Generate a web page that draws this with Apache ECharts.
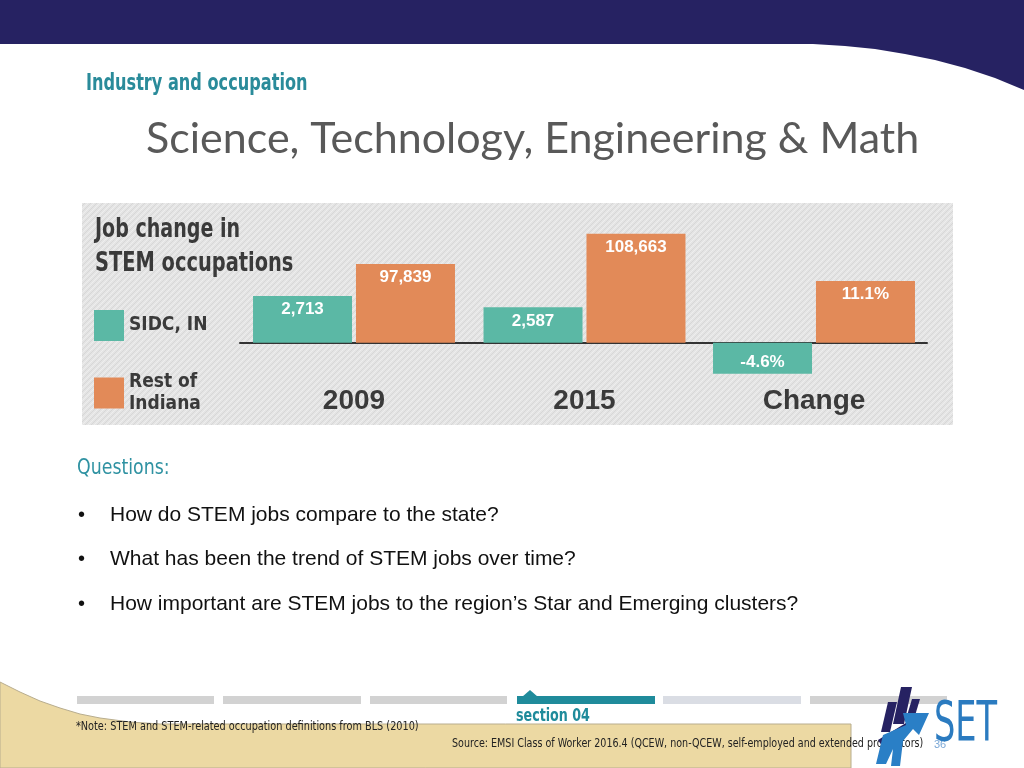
<!DOCTYPE html>
<html><head><meta charset="utf-8">
<script src="https://cdn.jsdelivr.net/npm/echarts@6/dist/echarts.min.js"></script>
<style>html,body{margin:0;padding:0;background:#fff}#c{width:1024px;height:768px}</style>
</head><body><div id="c"></div>
<script>
// ---- data ----
const categories = ['2009', '2015', 'Change'];
const sidcValues = [2713, 2587, -4.6];
const restValues = [97839, 108663, 11.1];
const categoryUnits = ['jobs', 'jobs', 'percent'];
const seriesNames = ['SIDC, IN', 'Rest of\nIndiana'];
const chartTitleLines = ['Job change in', 'STEM occupations'];
const questions = [
  'How do STEM jobs compare to the state?',
  'What has been the trend of STEM jobs over time?',
  'How important are STEM jobs to the region\u2019s Star and Emerging clusters?'
];

// ---- per-group scale ranges (infographic is not drawn to a common scale) ----
const sidcScaleMax = [8250, 10400, 21.2];
const restScaleMax = [177000, 142400, 25.6];

const TEAL = '#5bb8a5', ORANGE = '#e28a58', DARK = '#3a3a3a';
const NARROW = '"Liberation Sans Narrow","DejaVu Sans Condensed",sans-serif';
const SANS = '"Liberation Sans",Arial,sans-serif';

function fmt(v, unit) {
  return unit === 'percent' ? v.toFixed(1) + '%' : v.toLocaleString('en-US');
}

function makePattern() {
  const c = document.createElement('canvas');
  c.width = 6; c.height = 6;
  const g = c.getContext('2d');
  g.fillStyle = '#e4e4e4'; g.fillRect(0, 0, 6, 6);
  g.strokeStyle = '#d7d7d7'; g.lineWidth = 1;
  g.beginPath();
  g.moveTo(-1, 7); g.lineTo(7, -1);
  g.moveTo(-1, 1); g.lineTo(1, -1);
  g.moveTo(5, 7); g.lineTo(7, 5);
  g.stroke();
  g.strokeStyle = '#eeeeee';
  g.beginPath();
  g.moveTo(-1, 4); g.lineTo(4, -1);
  g.moveTo(2, 7); g.lineTo(7, 2);
  g.stroke();
  return c;
}

const gridEdges = [240, 468, 701, 927];
const grids = [], xAxes = [], yAxes = [], series = [];
categories.forEach((cat, i) => {
  grids.push({ left: gridEdges[i], width: gridEdges[i + 1] - gridEdges[i], top: 200, height: 200 });
  xAxes.push({
    type: 'category', gridIndex: i, data: [cat],
    axisLine: { onZero: true, lineStyle: { color: '#333', width: 2 } },
    axisTick: { show: false },
    axisLabel: { margin: -13, color: DARK, fontSize: 28, fontWeight: 'bold', fontFamily: SANS }
  });
  yAxes.push({ type: 'value', gridIndex: i, show: false, max: sidcScaleMax[i], min: -sidcScaleMax[i] * 0.4 });
  yAxes.push({ type: 'value', gridIndex: i, show: false, max: restScaleMax[i], min: -restScaleMax[i] * 0.4 });
  const unit = categoryUnits[i];
  const mk = (v) => v < 0 ? { value: v, label: { distance: 11 } } : v;
  const common = {
    type: 'bar', xAxisIndex: i, barWidth: 99, barGap: '4%',
    label: {
      show: true, position: 'insideTop', distance: 5, color: '#fff',
      fontSize: 17, fontWeight: 'bold', fontFamily: SANS,
      formatter: (p) => fmt(p.value, unit)
    }
  };
  series.push(Object.assign({}, common, {
    name: seriesNames[0], yAxisIndex: 2 * i, data: [mk(sidcValues[i])], itemStyle: { color: TEAL }
  }));
  series.push(Object.assign({}, common, {
    name: seriesNames[1], yAxisIndex: 2 * i + 1, data: [mk(restValues[i])], itemStyle: { color: ORANGE }
  }));
});

const txt = (x, y, text, font, fill, sx) => ({
  type: 'text', x: x, y: y, z: 10, scaleX: sx || 1,
  style: { text: text, font: font, fill: fill, align: 'left', verticalAlign: 'middle' }
});

const graphics = [
  // header band
  { type: 'polygon', z: 1, shape: { points: [[0,0],[1024,0],[1024,90],[995,78],[965,68],[935,60],[905,54],[875,49],[845,46],[813,44],[0,44]] },
    style: { fill: '#262262' } },
  // footer tan shape
  { type: 'polygon', z: 1, shape: { points: [[0,682],[20,692],[40,701],[60,708],[80,714],[100,718],[130,722],[160,724],[851,724],[851,768],[0,768]] },
    style: { fill: '#ecd9a3', stroke: '#b8ad8e', lineWidth: 1 } },
  // chart panel
  { type: 'rect', z: 0, shape: { x: 82, y: 203, width: 871, height: 222 },
    style: { fill: { image: makePattern(), repeat: 'repeat' } } },
  // progress segments
  { type: 'rect', z: 2, shape: { x: 77, y: 696, width: 137, height: 8 }, style: { fill: '#d2d2d2' } },
  { type: 'rect', z: 2, shape: { x: 223, y: 696, width: 138, height: 8 }, style: { fill: '#d2d2d2' } },
  { type: 'rect', z: 2, shape: { x: 370, y: 696, width: 137, height: 8 }, style: { fill: '#d2d2d2' } },
  { type: 'rect', z: 2, shape: { x: 517, y: 696, width: 138, height: 8 }, style: { fill: '#1f8b9b' } },
  { type: 'polygon', z: 2, shape: { points: [[522,697],[538,697],[530,690]] }, style: { fill: '#1f8b9b' } },
  { type: 'rect', z: 2, shape: { x: 663, y: 696, width: 138, height: 8 }, style: { fill: '#dadde4' } },
  { type: 'rect', z: 2, shape: { x: 810, y: 696, width: 137, height: 8 }, style: { fill: '#d2d2d2' } },
  // logo figure
  { type: 'polygon', z: 11, shape: { points: [[901,687],[912,687],[904,724],[893,724]] }, style: { fill: '#262262' } },
  { type: 'polygon', z: 11, shape: { points: [[888,702],[897,702],[890,732],[881,732]] }, style: { fill: '#262262' } },
  { type: 'polygon', z: 11, shape: { points: [[912,699],[920,699],[914,719],[906,719]] }, style: { fill: '#262262' } },
  { type: 'polygon', z: 11, shape: { points: [[878,740],[914,718],[918,724],[882,746]] }, style: { fill: '#262262' } },
  { type: 'polygon', z: 11, shape: { points: [[876,764],[883,735],[906,725],[903,713],[929,713],[919,735],[913,729],[903,741],[900,766],[891,766],[893,749],[886,764]] }, style: { fill: '#2a7fc6' } },
  // slide texts
  txt(86, 84, 'Industry and occupation', 'bold 23px ' + NARROW, '#2a8b9a', 0.78),
  txt(146, 139, 'Science, Technology, Engineering & Math', '43px Lato,"Open Sans",sans-serif', '#595959'),
  txt(77, 469, 'Questions:', '21px ' + NARROW, '#2f92a2', 0.92),
  txt(516, 717, 'section 04', 'bold 17px ' + NARROW, '#1f8b9b', 0.83),
  txt(76, 727, '*Note: STEM and STEM-related occupation definitions from BLS (2010)', '12px ' + NARROW, '#222', 0.9),
  txt(452, 744, 'Source: EMSI Class of Worker 2016.4 (QCEW, non-QCEW, self-employed and extended proprietors)', '12px ' + NARROW, '#222', 0.885),
  txt(934, 745, '36', '11px ' + SANS, '#7aa7d6'),
  { type: 'text', x: 934, y: 726, z: 12, scaleX: 0.68,
    style: { text: 'SET', font: '55px ' + NARROW, fill: '#2b7bc0', align: 'left', verticalAlign: 'middle' } },
  // chart title (inside panel)
  txt(95, 230, chartTitleLines[0], 'bold 26px ' + NARROW, DARK, 0.815),
  txt(95, 264, chartTitleLines[1], 'bold 26px ' + NARROW, DARK, 0.83)
];
questions.forEach((q, k) => {
  const y = 515 + k * 44.5;
  graphics.push(txt(78, y, '\u2022', '20px ' + SANS, '#111'));
  graphics.push(txt(110, y, q, '21px ' + SANS, '#111'));
});

const chart = echarts.init(document.getElementById('c'), null, { renderer: 'canvas' });
chart.setOption({
  animation: false,
  backgroundColor: '#fff',
  legend: {
    orient: 'vertical', left: 94, top: 310, padding: 0,
    itemWidth: 30, itemHeight: 31, itemGap: 30, selectedMode: false,
    icon: 'rect',
    data: seriesNames,
    textStyle: { color: DARK, fontSize: 19, fontWeight: 'bold', fontFamily: NARROW, lineHeight: 22 }
  },
  grid: grids,
  xAxis: xAxes,
  yAxis: yAxes,
  series: series,
  graphic: { elements: graphics }
});
</script></body></html>
